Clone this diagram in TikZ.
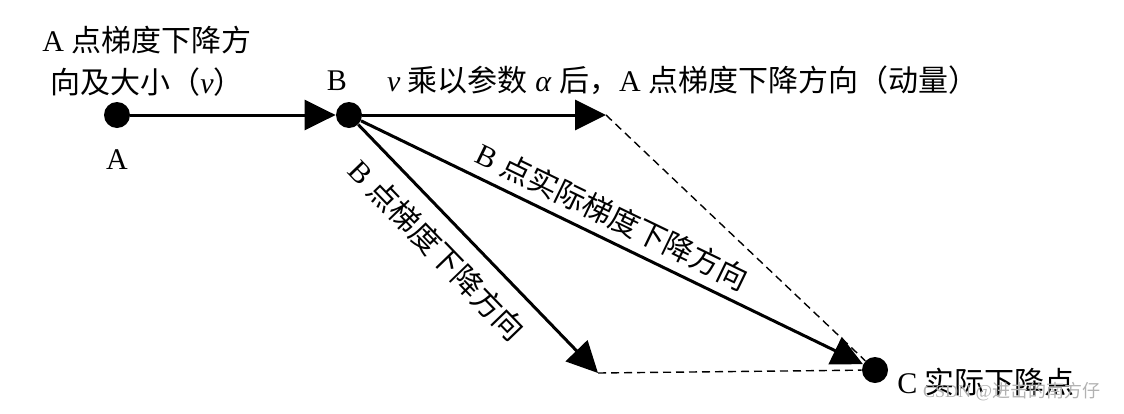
\documentclass[tikz,border=0pt]{standalone}
\usepackage{fontspec}
\setmainfont{Liberation Serif}
\newfontfamily\cjk{Noto Sans CJK SC}
\usepackage{tikz}
\usetikzlibrary{arrows.meta, positioning}

\begin{document}
\begin{tikzpicture}[
    x=0.5pt, y=-0.5pt,
    font=\fontsize{15}{21}\selectfont,
    dot/.style={circle, fill=black, inner sep=0pt, minimum size=13pt},
    arrow/.style={line width=1.5pt, -{Triangle[length=15.5pt, width=15pt]}},
    guide/.style={line width=0.7pt, dash pattern=on 4pt off 2.5pt}
]
\useasboundingbox (0,0) rectangle (1124,413);

\node[dot] (A) at (117,115) {};
\node[dot] (B) at (349,115) {};
\node[dot] (C) at (875,370) {};
\coordinate (M) at (606,115);
\coordinate (G) at (598,373);

\node[below=7pt of A] (lA) {A};
\node[above=2pt of B, xshift=-6pt] (lB) {B};
\node[align=center] (lv) at (147,61) {A {\cjk 点梯度下降方}\\{\cjk 向及大小（}\textit{v}{\cjk ）}};
\node[anchor=west] (lM) at (380,80) {\textit{v} {\cjk 乘以参数} \textit{α} {\cjk 后，}A {\cjk 点梯度下降方向（动量）}};
\node[right=1pt of C, yshift=-6pt] (lC) {C {\cjk 实际下降点}};

\draw[arrow] (A) -- (B);
\draw[arrow] (B) -- (M);
\draw[arrow] (B) -- node[below=4pt, sloped, pos=0.42] {B {\cjk 点梯度下降方向}} (G);
\draw[arrow] (B) -- node[above=1pt, sloped, pos=0.48] {B {\cjk 点实际梯度下降方向}} (C);
\draw[guide] (M) -- (C);
\draw[guide] (G) -- (C);

\node[gray!60, font=\fontsize{9}{11}\selectfont, anchor=west] (wm) at (916,392) {CSDN @{\cjk 进击的南方仔}};
\end{tikzpicture}
\end{document}
